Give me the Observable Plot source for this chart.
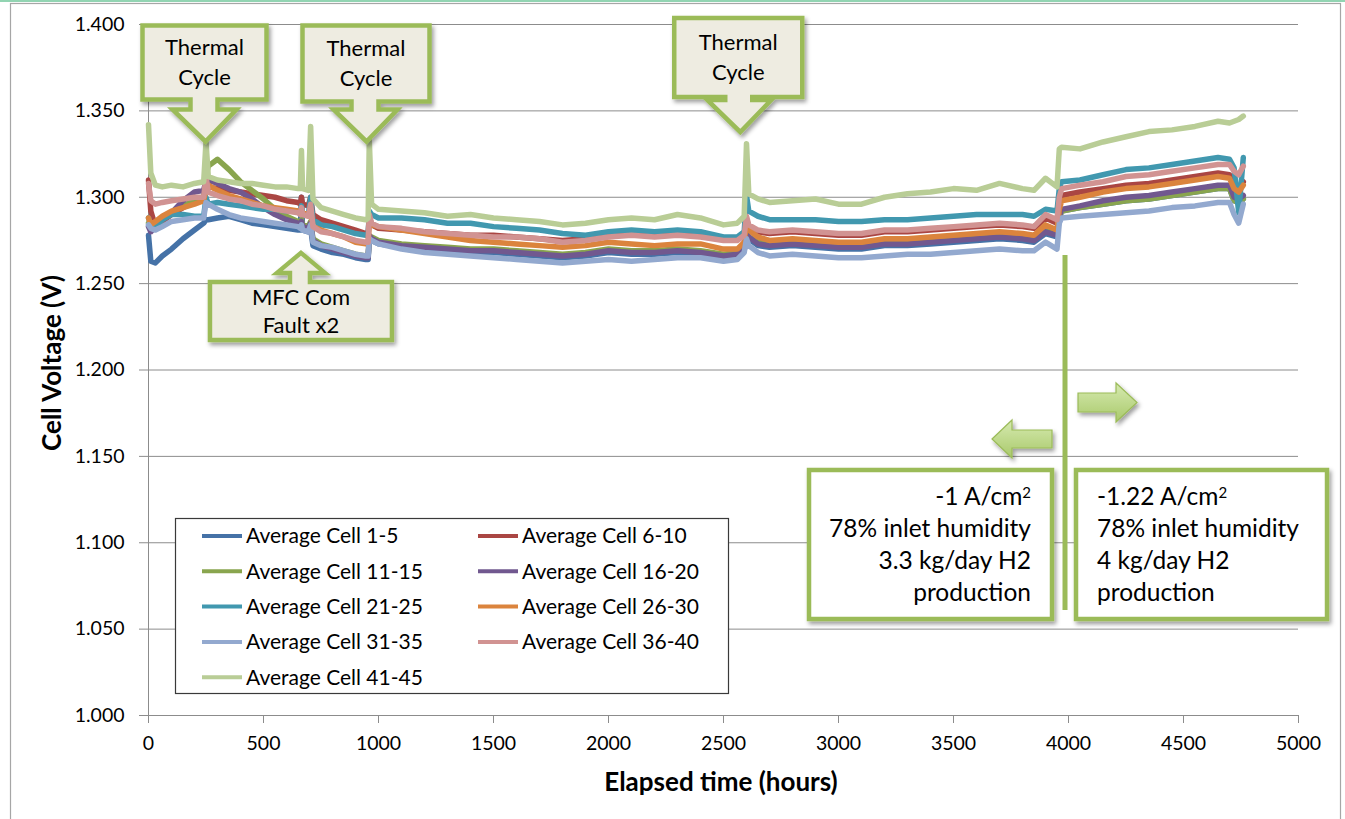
<!DOCTYPE html>
<html><head><meta charset="utf-8">
<script src="https://cdn.jsdelivr.net/npm/d3@7"></script>
<script src="https://cdn.jsdelivr.net/npm/@observablehq/plot@0.6"></script>
<style>
body{margin:0;background:#fff;}
#chart{position:relative;width:1345px;height:819px;overflow:hidden;}
</style>
</head><body><div id="chart"></div>
<script>
// ---------- data ----------
const hours = [0,10,30,60,100,150,200,240,250,260,300,350,400,450,500,550,600,650,660,665,670,695,705,715,750,800,850,900,945,955,960,970,1000,1100,1200,1300,1400,1500,1600,1700,1800,1900,2000,2100,2200,2300,2400,2500,2560,2590,2600,2610,2650,2700,2800,2900,3000,3100,3200,3300,3400,3500,3600,3700,3800,3850,3900,3950,3960,3970,4050,4150,4250,4350,4450,4550,4650,4700,4720,4740,4760];

const cell1_5 = [1.278,1.263,1.262,1.266,1.270,1.276,1.281,1.285, 1.287,1.287,1.288,1.289,1.287,1.285,1.284,1.283,1.282,1.281, 1.281,1.300,1.281,1.280,1.282,1.272, 1.270,1.268,1.267,1.265,1.264,1.264,1.276,1.275, 1.273,1.271,1.270,1.269,1.268,1.268,1.267,1.266,1.265,1.266,1.268,1.267,1.267,1.268,1.267,1.265, 1.266,1.269,1.279,1.276,1.272,1.271, 1.272,1.271,1.270,1.270,1.272,1.272,1.273,1.274,1.275,1.276,1.275, 1.274,1.279,1.277,1.288,1.292, 1.294,1.296,1.298,1.299,1.301,1.303,1.305, 1.305,1.298,1.297,1.299];
const cell6_10 = [1.310,1.292,1.283,1.286,1.290,1.294,1.297,1.299, 1.314,1.306,1.305,1.304,1.303,1.302,1.301,1.300,1.298,1.297, 1.296,1.300,1.296,1.295,1.300,1.290, 1.287,1.285,1.283,1.281,1.279,1.279,1.289,1.284, 1.282,1.281,1.280,1.279,1.278,1.278,1.277,1.276,1.275,1.276,1.278,1.279,1.278,1.279,1.278,1.276, 1.276,1.279,1.287,1.283,1.280,1.279, 1.280,1.279,1.278,1.278,1.280,1.280,1.281,1.282,1.283,1.284,1.283, 1.282,1.288,1.285,1.297,1.301, 1.303,1.305,1.307,1.308,1.310,1.312,1.314, 1.313,1.308,1.306,1.309];
const cell11_15 = [1.285,1.281,1.283,1.287,1.291,1.295,1.298,1.300, 1.312,1.318,1.322,1.316,1.309,1.304,1.299,1.293,1.289,1.286, 1.285,1.287,1.284,1.283,1.286,1.276, 1.273,1.271,1.269,1.267,1.266,1.266,1.277,1.277, 1.275,1.273,1.272,1.271,1.270,1.270,1.269,1.268,1.267,1.268,1.270,1.269,1.269,1.270,1.269,1.267, 1.268,1.271,1.279,1.277,1.274,1.273, 1.274,1.273,1.272,1.272,1.274,1.274,1.275,1.276,1.277,1.278,1.277, 1.276,1.281,1.279,1.288,1.292, 1.294,1.296,1.298,1.299,1.301,1.303,1.305, 1.305,1.298,1.297,1.299];
const cell16_20 = [1.283,1.280,1.283,1.287,1.291,1.298,1.303,1.304, 1.310,1.310,1.308,1.305,1.303,1.299,1.294,1.290,1.287,1.285, 1.284,1.286,1.283,1.282,1.285,1.275, 1.272,1.270,1.268,1.266,1.265,1.265,1.278,1.276, 1.274,1.272,1.271,1.270,1.269,1.269,1.268,1.267,1.266,1.267,1.269,1.268,1.268,1.269,1.268,1.266, 1.267,1.270,1.280,1.277,1.273,1.272, 1.273,1.272,1.271,1.271,1.273,1.273,1.274,1.275,1.276,1.277,1.276, 1.275,1.280,1.278,1.289,1.293, 1.295,1.298,1.300,1.301,1.303,1.305,1.307, 1.307,1.300,1.299,1.301];
const cell21_25 = [1.288,1.284,1.283,1.287,1.290,1.290,1.289,1.289, 1.300,1.296,1.297,1.296,1.295,1.294,1.293,1.293,1.292,1.292, 1.291,1.295,1.291,1.290,1.300,1.287, 1.284,1.283,1.281,1.279,1.278,1.278,1.292,1.290, 1.288,1.288,1.287,1.285,1.285,1.283,1.282,1.281,1.279,1.278,1.280,1.281,1.280,1.281,1.280,1.277, 1.277,1.280,1.301,1.292,1.289,1.287, 1.287,1.287,1.286,1.286,1.287,1.287,1.288,1.289,1.290,1.290,1.290, 1.289,1.293,1.292,1.305,1.309, 1.310,1.313,1.316,1.317,1.319,1.321,1.323, 1.322,1.317,1.291,1.323];
const cell26_30 = [1.288,1.284,1.286,1.289,1.292,1.294,1.296,1.298, 1.305,1.307,1.304,1.301,1.299,1.297,1.295,1.294,1.293,1.292, 1.291,1.292,1.291,1.290,1.293,1.283, 1.281,1.279,1.277,1.274,1.273,1.273,1.286,1.284, 1.283,1.281,1.279,1.277,1.275,1.274,1.273,1.272,1.271,1.272,1.274,1.273,1.272,1.273,1.273,1.270, 1.270,1.274,1.285,1.281,1.277,1.275, 1.276,1.275,1.274,1.274,1.276,1.276,1.277,1.278,1.279,1.280,1.279, 1.278,1.284,1.281,1.293,1.298, 1.300,1.303,1.305,1.306,1.308,1.310,1.312, 1.311,1.305,1.303,1.307];
const cell31_35 = [1.284,1.282,1.281,1.283,1.286,1.287,1.288,1.288, 1.297,1.296,1.293,1.290,1.288,1.287,1.286,1.285,1.284,1.283, 1.282,1.284,1.281,1.280,1.284,1.274, 1.272,1.271,1.269,1.267,1.266,1.266,1.276,1.275, 1.273,1.270,1.268,1.267,1.266,1.265,1.264,1.263,1.262,1.263,1.264,1.263,1.264,1.265,1.265,1.263, 1.264,1.268,1.276,1.272,1.268,1.266, 1.267,1.266,1.265,1.265,1.266,1.267,1.267,1.268,1.269,1.270,1.269, 1.269,1.274,1.270,1.285,1.288, 1.289,1.290,1.291,1.292,1.294,1.295,1.297, 1.297,1.290,1.285,1.296];
const cell36_40 = [1.308,1.298,1.296,1.297,1.298,1.299,1.300,1.300, 1.312,1.303,1.301,1.299,1.298,1.296,1.295,1.293,1.292,1.291, 1.290,1.294,1.290,1.289,1.296,1.283, 1.280,1.279,1.277,1.275,1.274,1.274,1.290,1.285, 1.283,1.282,1.280,1.279,1.278,1.277,1.277,1.276,1.274,1.275,1.277,1.278,1.277,1.278,1.277,1.275, 1.275,1.278,1.289,1.284,1.281,1.280, 1.281,1.280,1.279,1.279,1.281,1.281,1.282,1.283,1.284,1.285,1.284, 1.283,1.290,1.287,1.300,1.305, 1.307,1.309,1.312,1.313,1.315,1.317,1.319, 1.319,1.315,1.313,1.318];
const cell41_45 = [1.342,1.314,1.307,1.306,1.307,1.306,1.308,1.309, 1.332,1.312,1.310,1.309,1.308,1.308,1.307,1.306,1.306,1.305, 1.305,1.327,1.305,1.304,1.341,1.299, 1.294,1.292,1.290,1.288,1.287,1.288,1.333,1.296, 1.293,1.292,1.291,1.289,1.290,1.288,1.287,1.286,1.284,1.285,1.287,1.288,1.287,1.290,1.288,1.284, 1.285,1.289,1.331,1.302,1.299,1.297, 1.298,1.299,1.296,1.296,1.300,1.302,1.303,1.305,1.304,1.308,1.305, 1.304,1.311,1.306,1.328,1.329, 1.328,1.332,1.335,1.338,1.339,1.341,1.344, 1.343,1.344,1.345,1.347];

const seriesNames = ["Average Cell 1-5","Average Cell 6-10","Average Cell 11-15","Average Cell 16-20","Average Cell 21-25","Average Cell 26-30","Average Cell 31-35","Average Cell 36-40","Average Cell 41-45"];
const seriesValues = [cell1_5,cell6_10,cell11_15,cell16_20,cell21_25,cell26_30,cell31_35,cell36_40,cell41_45];
const seriesColors = ["#4572A7","#AA4643","#89A54E","#71588F","#4198AF","#DB843D","#93A9CF","#D19392","#B9CD96"];

const yTicks = [1.0,1.05,1.1,1.15,1.2,1.25,1.3,1.35,1.4];
const xTicks = [0,500,1000,1500,2000,2500,3000,3500,4000,4500,5000];

// annotations (data anchors)
const thermalCycles = [{h:250,v:1.332},{h:950,v:1.332},{h:2575,v:1.3375}];
const mfcFault = {h:665, v:1.2675};
const conditionChange = {h:3987, vTop:1.2663, vBottom:1.0608};
const leftBoxLines = ["-1 A/cm|2","78% inlet humidity","3.3 kg/day H2","production"];
const rightBoxLines = ["-1.22 A/cm|2","78% inlet humidity","4 kg/day H2","production"];

// ---------- build rows ----------
const rows = [];
seriesValues.forEach((vals, si) => vals.forEach((v, i) => rows.push({h: hours[i], v, s: seriesNames[si]})));

const FONT = "Lato, 'Open Sans', sans-serif";
const GRID = "#8c8c8c";
const GREEN = "#9BBB59";

const plot = Plot.plot({
  width: 1345, height: 819,
  marginLeft: 148, marginRight: 47, marginTop: 24, marginBottom: 104,
  style: {fontFamily: FONT, fontSize: "19.5px", color: "#000", background: "#fff", overflow: "visible"},
  x: {domain: [0, 5000], label: null},
  y: {domain: [1.0, 1.4], label: null},
  color: {domain: seriesNames, range: seriesColors},
  marks: [
    Plot.gridY(yTicks, {stroke: GRID, strokeOpacity: 1, strokeWidth: 1}),
    Plot.ruleX([0], {stroke: GRID, strokeWidth: 1}),
    Plot.ruleY([1.0], {stroke: GRID, strokeWidth: 1}),
    Plot.axisY({ticks: yTicks, tickSize: 9, tickPadding: 15, stroke: GRID, strokeOpacity: 1, tickFormat: d3.format(".3f"), label: null}),
    Plot.axisX({ticks: xTicks, tickSize: 8, tickPadding: 13, stroke: GRID, strokeOpacity: 1, tickFormat: d => String(d), label: null}),
    Plot.line(rows, {x: "h", y: "v", stroke: "s", z: "s", strokeWidth: 5.5, curve: "linear", strokeLinejoin: "round"})
  ]
});
document.getElementById("chart").appendChild(plot);

const X = plot.scale("x"), Y = plot.scale("y");
const svg = d3.select(plot);

const defs = svg.append("defs");
const f = defs.append("filter").attr("id","sh").attr("x","-20%").attr("y","-20%").attr("width","150%").attr("height","150%");
f.append("feDropShadow").attr("dx",2).attr("dy",3).attr("stdDeviation",2.2).attr("flood-color","#000").attr("flood-opacity",0.38);
const g = defs.append("linearGradient").attr("id","arrG").attr("x1",0).attr("y1",0).attr("x2",0).attr("y2",1);
g.append("stop").attr("offset","0%").attr("stop-color","#d6eab0");
g.append("stop").attr("offset","100%").attr("stop-color","#a9c96b");

const ov = svg.append("g").attr("font-family", FONT).attr("fill", "#000").attr("text-anchor","start");

// outer frame
ov.append("rect").attr("x",0).attr("y",0).attr("width",1345).attr("height",2).attr("fill","#92d4b2");
ov.append("rect").attr("x",10.5).attr("y",3.5).attr("width",1330).attr("height",840).attr("fill","none").attr("stroke","#a6a6a6").attr("stroke-width",1.2);

// axis titles
ov.append("text").attr("transform",`translate(52,363) rotate(-90)`).attr("text-anchor","middle").attr("dy","0.35em")
  .attr("font-size",26).attr("font-weight","bold").text("Cell Voltage (V)");
ov.append("text").attr("x",721).attr("y",782).attr("text-anchor","middle").attr("dy","0.35em")
  .attr("font-size",26).attr("font-weight","bold").text("Elapsed time (hours)");

// callouts pointing down
function downCallout(tx, ty, box, lines){
  const [x0,y0,x1,y1] = box;
  const sl = ty - 32, sx0 = tx - 15, sx1 = tx + 12, hx0 = tx - 33, hx1 = tx + 31;
  const d = `M${x0},${y0}H${x1}V${y1}H${sx1}V${sl}H${hx1}L${tx},${ty}L${hx0},${sl}H${sx0}V${y1}H${x0}Z`;
  ov.append("path").attr("d",d).attr("fill","#EEECE1").attr("stroke",GREEN).attr("stroke-width",4.5).attr("stroke-linejoin","miter").attr("filter","url(#sh)");
  const cx = (x0+x1)/2, cy = (y0+y1)/2;
  lines.forEach((t,i) => ov.append("text").attr("x",cx).attr("y",cy + (i - (lines.length-1)/2)*30).attr("dy","0.35em")
    .attr("text-anchor","middle").attr("font-size",22).text(t));
}
const tcBoxes = [[-63,-116,61,-42],[-64,-116,63,-40],[-66,-114,62,-35]];
thermalCycles.forEach((c,i) => {
  const tx = X.apply(c.h), ty = Y.apply(c.v);
  const b = tcBoxes[i];
  downCallout(tx, ty, [tx+b[0], ty+b[1], tx+b[2], ty+b[3]], ["Thermal","Cycle"]);
});

// MFC callout pointing up
{
  const tx = X.apply(mfcFault.h), ty = Y.apply(mfcFault.v);
  const x0 = tx-91, x1 = tx+91, y0 = ty+29, y1 = ty+87;
  const hb = ty+20, sx0 = tx-11, sx1 = tx+9, hx0 = tx-24, hx1 = tx+24;
  const d = `M${x0},${y0}H${sx0}V${hb}H${hx0}L${tx},${ty}L${hx1},${hb}H${sx1}V${y0}H${x1}V${y1}H${x0}Z`;
  ov.append("path").attr("d",d).attr("fill","#EEECE1").attr("stroke",GREEN).attr("stroke-width",4.5).attr("filter","url(#sh)");
  ["MFC Com","Fault x2"].forEach((t,i)=> ov.append("text").attr("x",tx).attr("y",(y0+y1)/2 + (i-0.5)*28).attr("dy","0.35em")
    .attr("text-anchor","middle").attr("font-size",22).text(t));
}

// condition change vertical line, arrows, text boxes
{
  const lx = X.apply(conditionChange.h);
  ov.append("line").attr("x1",lx).attr("x2",lx).attr("y1",Y.apply(conditionChange.vTop)).attr("y2",Y.apply(conditionChange.vBottom))
    .attr("stroke",GREEN).attr("stroke-width",5);
  const la = `M${lx-73},439 L${lx-53},420 V430 H${lx-13} V448 H${lx-53} V458 Z`;
  ov.append("path").attr("d",la).attr("fill","url(#arrG)").attr("stroke","#9bbb59").attr("stroke-width",1.2).attr("filter","url(#sh)");
  const ra = `M${lx+13},393 H${lx+51} V383 L${lx+72},402.5 L${lx+51},422 V412 H${lx+13} Z`;
  ov.append("path").attr("d",ra).attr("fill","url(#arrG)").attr("stroke","#9bbb59").attr("stroke-width",1.2).attr("filter","url(#sh)");

  function textBox(x0, x1, lines, align){
    ov.append("rect").attr("x",x0).attr("y",470).attr("width",x1-x0).attr("height",149).attr("fill","#fff")
      .attr("stroke",GREEN).attr("stroke-width",4.5).attr("filter","url(#sh)");
    lines.forEach((t,i) => {
      const tx = align === "end" ? x1 - 21 : x0 + 21;
      const el = ov.append("text").attr("x",tx).attr("y",496 + i*32).attr("dy","0.35em").attr("text-anchor",align).attr("font-size",24.5);
      const parts = t.split("|");
      el.append("tspan").text(parts[0]);
      if (parts[1]) el.append("tspan").attr("dy","-0.45em").attr("font-size",15).text(parts[1]);
    });
  }
  textBox(lx-256, lx-13, leftBoxLines, "end");
  textBox(lx+11, lx+262, rightBoxLines, "start");
}

// legend
{
  const lg = ov.append("g");
  lg.append("rect").attr("x",175.5).attr("y",518.5).attr("width",553).attr("height",175).attr("fill","#fff").attr("stroke","#3a3a3a").attr("stroke-width",1.2);
  seriesNames.forEach((n,i) => {
    const col = i % 2, row = Math.floor(i/2);
    const lx = col ? 478 : 202, ly = 536 + row*35.3;
    lg.append("line").attr("x1",lx).attr("x2",lx+40).attr("y1",ly).attr("y2",ly).attr("stroke",seriesColors[i]).attr("stroke-width",4);
    lg.append("text").attr("x",lx+44).attr("y",ly).attr("dy","0.35em").attr("text-anchor","start").attr("font-size",21).text(n);
  });
}
</script>
</body></html>
